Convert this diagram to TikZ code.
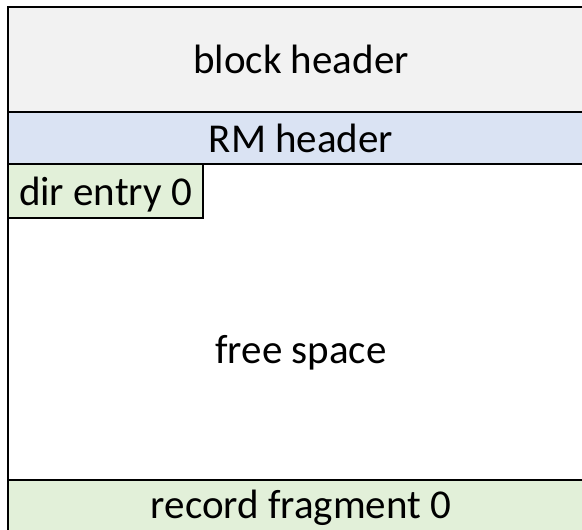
\documentclass[tikz,border=0pt]{standalone}
\usepackage{fontspec}
\setmainfont{Carlito}
\definecolor{hdrgray}{HTML}{F2F2F2}
\definecolor{rmblue}{HTML}{DAE3F3}
\definecolor{entgreen}{HTML}{E2F0D9}
\tikzset{
  part/.style={draw=black, line width=1.3pt, inner sep=0pt, outer sep=0pt,
    font=\fontsize{41}{49}\selectfont, text height=29pt, text depth=0pt},
  plain/.style={inner sep=0pt, outer sep=0pt,
    font=\fontsize{41}{49}\selectfont, text height=29pt, text depth=0pt},
}
\begin{document}
\begin{tikzpicture}[x=1pt,y=-1pt]
\useasboundingbox (0,0) rectangle (582,530);
\clip (0,0) rectangle (582,530);
\node[part, fill=hdrgray, minimum width=586pt, minimum height=105pt] (block) at (301,59.5) {block header};
\node[part, fill=rmblue, minimum width=586pt, minimum height=52pt] (rm) at (301,138) {RM header};
\node[part, fill=entgreen, minimum width=195pt, minimum height=54pt] (dir) at (105.5,191) {dir entry 0};
\node[plain, minimum width=586pt, minimum height=262pt] (free) at (301,349) {free space};
\node[part, fill=entgreen, minimum width=586pt, minimum height=60pt] (rec) at (301,510) {};
\node[plain, anchor=base] (rectext) at (301,518) {record fragment 0};
\node[draw=black, line width=1.6pt, inner sep=0pt, minimum width=586pt, minimum height=533pt] (frame) at (301,273.5) {};
\end{tikzpicture}
\end{document}
